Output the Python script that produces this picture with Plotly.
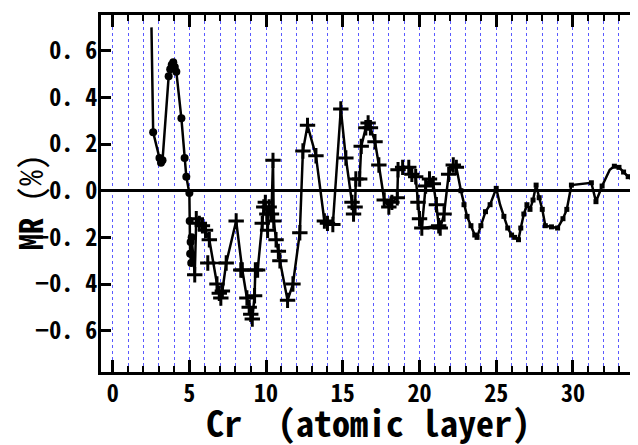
import plotly.graph_objects as go

# Cr thickness (atomic layers), MR (%), marker kind: n=none, o=circle, +=plus, s=small square
x_vals = [2.53, 2.60, 2.64, 3.05, 3.15, 3.25, 3.65, 3.75, 3.85, 3.95, 4.05, 4.15,
          4.48, 4.69, 4.80, 5.00, 5.02, 5.08, 5.05, 5.12, 5.15,
          5.35, 5.45, 5.65, 5.85, 6.05, 6.30, 6.80, 6.95, 7.05, 7.15, 7.40, 6.20, 7.40,
          8.05, 8.45, 8.75, 8.90, 9.00, 9.10, 9.25, 9.30, 8.35, 9.45,
          9.75, 9.85, 9.95, 10.05, 10.10, 10.20, 10.35, 10.45, 10.50, 10.65, 10.80, 10.90,
          11.40, 11.75, 12.20, 12.40, 12.70, 13.25, 13.80, 14.00, 14.35, 14.87, 15.20,
          15.60, 15.70, 15.80, 15.85, 16.10, 16.20, 16.50, 16.65, 16.80, 17.10, 17.35,
          17.70, 18.00, 18.20, 18.55, 18.60, 18.90, 19.30, 19.50, 19.75, 19.90, 20.00,
          20.15, 20.40, 20.65, 20.90, 21.10, 21.25, 20.20, 21.35, 21.60, 21.90, 22.20, 22.40,
          22.70, 22.90, 23.10, 23.35, 23.60, 23.75, 24.00, 24.30, 24.60, 25.00,
          25.25, 25.50, 25.75, 26.00, 26.20, 26.45, 26.60, 26.80, 27.00, 27.20, 27.40,
          27.60, 27.80, 28.00, 28.20, 28.60, 29.00, 29.35, 29.60, 29.90, 31.20, 31.50,
          31.90, 32.40, 32.70, 33.00, 33.30, 33.60, 34.00, 34.50]
y_vals = [0.70, 0.36, 0.25, 0.14, 0.12, 0.13, 0.49, 0.52, 0.54, 0.55, 0.53, 0.51,
          0.31, 0.14, 0.06, -0.01, -0.13, -0.22, -0.27, -0.31, -0.20,
          -0.36, -0.12, -0.14, -0.15, -0.17, -0.21, -0.40, -0.44, -0.46, -0.43, -0.31, -0.31, -0.31,
          -0.13, -0.34, -0.46, -0.50, -0.53, -0.55, -0.45, -0.34, -0.34, -0.34,
          -0.14, -0.07, -0.05, -0.10, -0.17, -0.07, -0.10, 0.13, -0.13, -0.21, -0.26, -0.30,
          -0.47, -0.40, -0.18, 0.17, 0.28, 0.15, -0.13, -0.14, -0.145, 0.35, 0.14,
          -0.05, -0.10, -0.07, 0.05, 0.05, 0.19, 0.27, 0.29, 0.27, 0.21, 0.11,
          -0.04, -0.07, -0.05, -0.03, 0.09, 0.10, 0.10, 0.07, 0.06, -0.05, -0.12,
          -0.16, 0.02, 0.05, 0.03, -0.06, -0.15, -0.16, -0.16, -0.10, 0.07, 0.11, 0.10,
          0.00, -0.06, -0.11, -0.15, -0.19, -0.20, -0.15, -0.09, -0.06, 0.01,
          -0.06, -0.11, -0.16, -0.19, -0.20, -0.21, -0.16, -0.10, -0.06, -0.08, -0.04,
          0.024, -0.03, -0.08, -0.15, -0.155, -0.16, -0.12, -0.08, 0.024, 0.034, -0.047,
          0.02, 0.09, 0.105, 0.10, 0.08, 0.06, 0.04, 0.03]
marks = (list("nnoooooooooo") + list("ooooooooo") +
         list("++++++++++++n") + list("++++++++++") +
         list("++++++++++++") + list("+++++++++++") +
         list("+++++++++++") + list("+++++++++++") +
         list("++++++n+++++") + list("ssssssssssn") +
         list("sssssssssss") + list("sssssssssss") +
         list("nsssssssn"))

x_major = [0, 5, 10, 15, 20, 25, 30]
y_ticks = [-0.6, -0.4, -0.2, 0.0, 0.2, 0.4, 0.6]
y_ticktext = ["\u22120. 6", "\u22120. 4", "\u22120. 2", "0. 0", "0. 2", "0. 4", "0. 6"]

FONT = "Noto Sans Mono CJK JP, Noto Sans CJK JP, DejaVu Sans Mono, monospace"

n = min(len(x_vals), len(y_vals), len(marks))
x_vals, y_vals, marks = x_vals[:n], y_vals[:n], marks[:n]

def pick(code):
    xs = [x for x, m in zip(x_vals, marks) if m == code]
    ys = [y for y, m in zip(y_vals, marks) if m == code]
    return xs, ys

fig = go.Figure()
fig.add_trace(go.Scatter(x=x_vals, y=y_vals, mode="lines",
                         line=dict(color="black", width=2.5), showlegend=False))
xo, yo = pick("o")
fig.add_trace(go.Scatter(x=xo, y=yo, mode="markers",
                         marker=dict(symbol="circle", size=8, color="black"), showlegend=False))
xp, yp = pick("+")
fig.add_trace(go.Scatter(x=xp, y=yp, mode="markers",
                         marker=dict(symbol="cross-thin", size=11, color="black",
                                     line=dict(color="black", width=3)), showlegend=False))
xs, ys = pick("s")
fig.add_trace(go.Scatter(x=xs, y=ys, mode="markers",
                         marker=dict(symbol="square", size=5, color="black"), showlegend=False))
fig.add_trace(go.Scatter(x=[], y=[], yaxis="y2", showlegend=False))

# the page body adds an 8px margin; the figure is sized to fill the rest of the window
fig.update_layout(
    width=630, height=437,
    margin=dict(l=93, r=0, t=7, b=73),
    paper_bgcolor="white", plot_bgcolor="white",
    font=dict(family=FONT, color="black"),
    xaxis=dict(range=[-0.76, 34.24], tickvals=x_major, ticks="inside", ticklen=12, tickwidth=3,
               tickcolor="black", showline=True, linewidth=3, linecolor="black", mirror="ticks",
               showgrid=True, gridcolor="#5a5aff", griddash="dot", gridwidth=1, zeroline=False,
               tickfont=dict(size=24, family=FONT, weight="bold"), ticklabelstandoff=-2,
               minor=dict(dtick=1, ticks="inside", ticklen=6, tickwidth=2, tickcolor="black",
                          showgrid=True, gridcolor="#5a5aff", griddash="dot", gridwidth=1)),
    yaxis=dict(range=[-0.777, 0.753], tickvals=y_ticks, ticktext=y_ticktext, ticks="inside",
               ticklen=10, tickwidth=3, tickcolor="black", showline=True, linewidth=3,
               linecolor="black", showgrid=False, zeroline=True, zerolinecolor="black",
               zerolinewidth=3, tickfont=dict(size=24, family=FONT, weight="bold"),
               ticklabelstandoff=-4),
    yaxis2=dict(range=[-0.777, 0.753], overlaying="y", side="right", tickvals=y_ticks,
                ticks="inside", ticklen=5, tickwidth=3, tickcolor="black", showline=False,
                showticklabels=False, showgrid=False, zeroline=False),
    annotations=[
        dict(text="<b>MR</b> (%)", textangle=-90, xref="paper", yref="paper",
             x=-0.134, y=0.476, showarrow=False, xanchor="center", yanchor="middle",
             font=dict(size=32, family=FONT, color="black")),
        dict(text="Cr  (atomic layer)", xref="paper", yref="paper",
             x=0.497, y=-0.138, showarrow=False, xanchor="center", yanchor="middle",
             font=dict(size=36, family=FONT, color="black", weight="bold")),
    ],
)

fig.write_html("out.html")
